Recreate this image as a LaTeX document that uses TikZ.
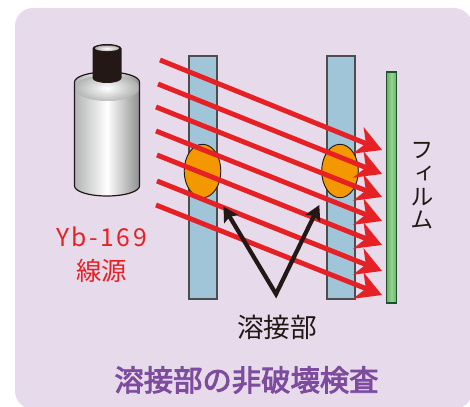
\documentclass[tikz,border=0pt]{standalone}
\usepackage{fontspec}
\setmainfont{Noto Sans CJK JP}
\newfontfamily\tatefont[RawFeature=+vert]{Noto Sans CJK JP}
\newfontfamily\titlefont[FakeBold=3]{Noto Sans CJK JP}
\usetikzlibrary{arrows.meta}

\definecolor{bgpurple}{RGB}{231,218,234}
\definecolor{plateblue}{RGB}{161,197,216}
\definecolor{plateedge}{RGB}{77,77,77}
\definecolor{weldorange}{RGB}{243,152,0}
\definecolor{rayred}{RGB}{230,33,37}
\definecolor{inkblack}{RGB}{35,24,21}
\definecolor{filmgreen}{RGB}{96,180,94}
\definecolor{filmlight}{RGB}{150,212,146}
\definecolor{filmedge}{RGB}{30,80,45}
\definecolor{titlepurple}{RGB}{125,76,158}
\definecolor{cylgray}{RGB}{178,179,179}

\begin{document}
\begin{tikzpicture}
  [x=0.75pt,y=-0.75pt,every node/.style={inner sep=0pt},
   plate/.style={draw=plateedge,fill=plateblue,line width=0.9pt},
   weld/.style={draw=inkblack,fill=weldorange,line width=0.7pt},
   ray/.style={draw=rayred,line width=3.7pt,-{Stealth[length=19pt,width=21pt,inset=6pt]}},
   pointer/.style={draw=inkblack,line width=3.2pt,miter limit=10,
     {Stealth[length=11pt,width=12pt,inset=2pt]}-{Stealth[length=11pt,width=12pt,inset=2pt]}}]
  \useasboundingbox (0,0) rectangle (470,406);
  \fill[bgpurple,rounded corners=13.5pt] (15,8) rectangle (472,409);

  % source capsule
  \path[left color=cylgray,right color=cylgray!80!black,middle color=white]
    (74.5,82) -- (74.5,186) arc (180:0:32.5 and 10) -- (139.5,82) arc (0:-180:32.5 and 10) -- cycle;
  \begin{scope}
    \clip (74.5,82) -- (74.5,186) arc (180:0:32.5 and 10) -- (139.5,82) arc (0:-180:32.5 and 10) -- cycle;
    \shade[inner color=white,outer color=cylgray,opacity=0.85] (107,88) ellipse (32.5 and 13);
  \end{scope}
  \draw[inkblack,line width=0.9pt]
    (74.5,82) -- (74.5,186) arc (180:0:32.5 and 10) -- (139.5,82) arc (0:-180:32.5 and 10) -- cycle;
  \fill[inkblack] (92.5,48.5) -- (92.5,78) arc (180:0:14.5 and 5) -- (121.5,48.5) arc (0:-180:14.5 and 4.5) -- cycle;
  \shade[inner color=white,outer color=gray!60] (107,48.3) ellipse (12 and 2.8);

  % plates, welds and film
  \draw[plate] (189,56) rectangle (217,299);
  \draw[plate] (327,56) rectangle (355,299);
  \draw[weld] (202.5,171) ellipse (18.3 and 26.7);
  \draw[weld] (340,171) ellipse (18.3 and 26.7);
  \draw[filmedge,line width=1pt,left color=filmgreen,right color=filmgreen,middle color=filmlight]
    (386.5,72) rectangle (396.5,303);

  \foreach \i/\x/\y in {1/160/60,2/158/84,3/156/107,4/156/131,5/157/155,6/157/181,7/156/205}
  {
    \coordinate (s\i) at (\x,\y);
    \coordinate (t\i) at (382,\y+90);
  }
  \foreach \i in {1,...,7}
    \draw[ray] (s\i) -- (t\i);

  \coordinate (v) at (276,294);
  \coordinate (w1) at (223.5,206.5);
  \coordinate (w2) at (319.3,205);
  \draw[pointer] (w1) -- (v) -- (w2);

  \node[text=rayred,font=\fontsize{18.5}{20}\selectfont\addfontfeatures{LetterSpace=10}] (srcname) at (101.5,236.5) {Yb-169};
  \node[text=rayred,font=\fontsize{19}{21}\selectfont] (srctype) at (101.5,270.5) {線源};
  \node[text=inkblack,font=\fontsize{20}{22}\selectfont] (weldname) at (277,327) {溶接部};
  \node[text=inkblack,font=\tatefont\fontsize{17.5}{17.5}\selectfont,align=center] (filmname) at (422,186) {フ\\ィ\\ル\\ム};
  \node[text=titlepurple,font=\titlefont\fontsize{22}{24}\selectfont] (title) at (246.5,380) {溶接部の非破壊検査};
\end{tikzpicture}
\end{document}
